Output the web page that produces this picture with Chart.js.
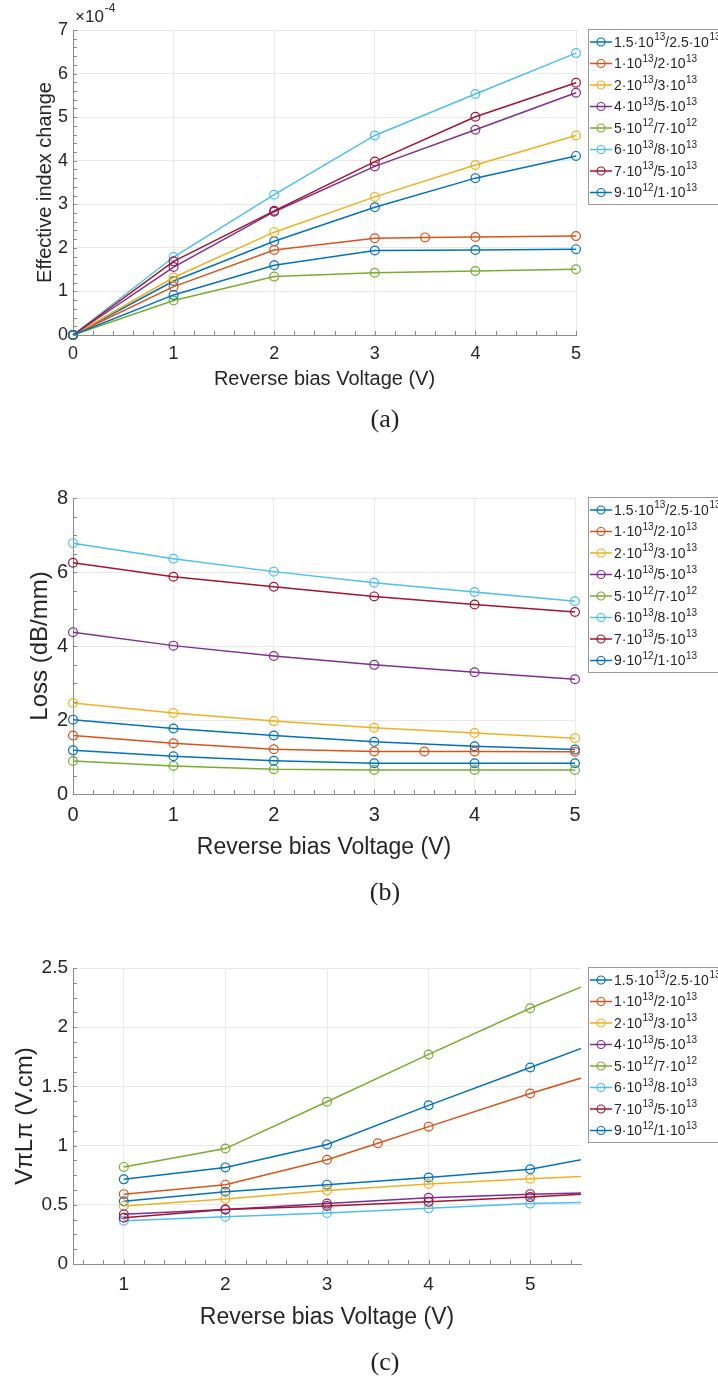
<!DOCTYPE html>
<html><head><meta charset="utf-8">
<script src="https://cdn.jsdelivr.net/npm/chart.js@4.4.1/dist/chart.umd.min.js"></script>
<style>
html,body{margin:0;padding:0;background:#fff;width:718px;height:1378px;overflow:hidden;position:relative;}
canvas{position:absolute;left:0;}
.cap{position:absolute;left:335px;width:100px;text-align:center;font-family:'Liberation Serif','DejaVu Serif',serif;font-size:26px;color:#222;line-height:30px;}
</style></head><body>
<canvas id="ca" width="718" height="440" style="top:0px;width:718px;height:440px"></canvas>
<canvas id="cb" width="718" height="470" style="top:440px;width:718px;height:470px"></canvas>
<canvas id="cc" width="718" height="468" style="top:910px;width:718px;height:468px"></canvas>
<div class="cap" style="top:404px">(a)</div>
<div class="cap" style="top:877px">(b)</div>
<div class="cap" style="top:1347px">(c)</div>
<script>
// ---------- data ----------
const seriesLabels = ["1.5·10^13/2.5·10^13","1·10^13/2·10^13","2·10^13/3·10^13","4·10^13/5·10^13","5·10^12/7·10^12","6·10^13/8·10^13","7·10^13/5·10^13","9·10^12/1·10^13"];
const seriesColors = ["#0072BD","#D95319","#EDB120","#7E2F8E","#77AC30","#4DBEEE","#A2142F","#0072BD"];

const voltsAB = [0,1,2,3,4,5];
const voltsABOrange = [0,1,2,3,3.5,4,5];
const voltsC = [1,2,3,4,5,6];
const voltsCOrange = [1,2,3,3.5,4,5,6];

// (a) effective index change, in units of 1e-4
const dn_15_25 = [0,1.24,2.15,2.93,3.60,4.11];
const dn_1_2   = [0,1.11,1.95,2.22,2.24,2.25,2.27];
const dn_2_3   = [0,1.32,2.36,3.17,3.90,4.58];
const dn_4_5   = [0,1.56,2.83,3.87,4.71,5.56];
const dn_5_7   = [0,0.79,1.34,1.43,1.47,1.51];
const dn_6_8   = [0,1.79,3.22,4.58,5.53,6.47];
const dn_7_5   = [0,1.69,2.85,3.98,5.01,5.79];
const dn_9_1   = [0,0.92,1.60,1.94,1.95,1.97];

// (b) loss dB/mm
const loss_15_25 = [2.01,1.77,1.58,1.41,1.29,1.20];
const loss_1_2   = [1.58,1.37,1.21,1.15,1.15,1.15,1.14];
const loss_2_3   = [2.46,2.19,1.97,1.79,1.65,1.51];
const loss_4_5   = [4.37,4.01,3.73,3.49,3.29,3.10];
const loss_5_7   = [0.89,0.76,0.67,0.65,0.65,0.65];
const loss_6_8   = [6.78,6.36,6.01,5.71,5.46,5.21];
const loss_7_5   = [6.25,5.87,5.60,5.34,5.12,4.92];
const loss_9_1   = [1.18,1.02,0.90,0.83,0.83,0.83];

// (c) VpiLpi V.cm
const vpl_15_25 = [0.53,0.61,0.67,0.73,0.80,0.96];
const vpl_1_2   = [0.59,0.67,0.88,1.02,1.16,1.44,1.70];
const vpl_2_3   = [0.49,0.55,0.62,0.675,0.72,0.76];
const vpl_4_5   = [0.42,0.46,0.51,0.56,0.59,0.61];
const vpl_5_7   = [0.82,0.975,1.37,1.77,2.16,2.52];
const vpl_6_8   = [0.365,0.40,0.43,0.47,0.51,0.53];
const vpl_7_5   = [0.39,0.46,0.49,0.525,0.565,0.615];
const vpl_9_1   = [0.715,0.816,1.01,1.34,1.66,1.98];

const xTicksAB = [0,1,2,3,4,5];
const xTicksC = [1,2,3,4,5];
const yTicksA = [0,1,2,3,4,5,6,7];
const yTicksB = [0,2,4,6,8];
const yTicksC = [0,0.5,1,1.5,2,2.5];

// ---------- styling ----------
const FF = "'Liberation Sans', Arial, Helvetica, sans-serif";
const TXT = '#262626';
const AX = '#8a8a8a';
const GRID = '#e9e9e9';

function buildDatasets(xsList, ysList, clip){
  return seriesLabels.map((lab,i)=>({
    label: lab,
    data: xsList[i].map((x,j)=>({x:x, y:ysList[i][j]})),
    borderColor: seriesColors[i],
    backgroundColor: 'rgba(0,0,0,0)',
    pointBorderColor: seriesColors[i],
    pointBackgroundColor: 'rgba(0,0,0,0)',
    borderWidth: 1.5,
    pointRadius: 4.4,
    pointHoverRadius: 4.4,
    pointBorderWidth: 1.2,
    tension: 0,
    clip: clip,
    order: 10 - i
  }));
}

function drawSup(ctx, str, x, y, fs, sfs){
  const parts = str.split(/\^(\d+)/);
  parts.forEach((p,k)=>{
    if(!p) return;
    if(k%2===0){ ctx.font = fs+'px '+FF; ctx.fillText(p,x,y); x += ctx.measureText(p).width; }
    else { ctx.font = sfs+'px '+FF; ctx.fillText(p,x+0.5,y-5.5); x += ctx.measureText(p).width+0.5; }
  });
}

const decoPlugin = {
  id: 'deco',
  afterDraw(chart, args, opts){
    const ctx = chart.ctx, a = chart.chartArea, xs = chart.scales.x, ys = chart.scales.y;
    ctx.save();
    // inward tick marks
    ctx.strokeStyle = AX; ctx.lineWidth = 1; ctx.beginPath();
    const L = 4;
    const xm = opts.xMinor, ym = opts.yMinor;
    const nx = Math.round((xm.to - xm.from)/xm.step);
    for(let k=0;k<=nx;k++){ const v = xm.from + k*xm.step; const p = Math.round(xs.getPixelForValue(v))+0.5; ctx.moveTo(p,a.bottom); ctx.lineTo(p,a.bottom-L); }
    const ny = Math.round((ym.to - ym.from)/ym.step);
    for(let k=0;k<=ny;k++){ const v = ym.from + k*ym.step; const p = Math.round(ys.getPixelForValue(v))+0.5; ctx.moveTo(a.left,p); ctx.lineTo(a.left+L,p); }
    ctx.stroke();
    // legend
    const bx = 588, by = Math.round(a.top)-0.5, bh = 175;
    ctx.fillStyle = '#fff'; ctx.fillRect(bx, by, 200, bh);
    ctx.strokeStyle = '#999'; ctx.lineWidth = 1; ctx.strokeRect(bx+0.5, by, 200, bh);
    chart.data.datasets.forEach((ds,i)=>{
      const y = by + 12.5 + i*21.5;
      ctx.strokeStyle = ds.borderColor; ctx.lineWidth = 1.5;
      ctx.beginPath(); ctx.moveTo(590,y); ctx.lineTo(612,y); ctx.stroke();
      ctx.lineWidth = 1.2; ctx.beginPath(); ctx.arc(601,y,4,0,Math.PI*2); ctx.stroke();
      ctx.fillStyle = TXT; ctx.textBaseline = 'middle'; ctx.textAlign = 'left';
      drawSup(ctx, ds.label, 614, y+1, 14, 10);
    });
    // exponent label
    if(opts.exponent){
      ctx.fillStyle = TXT; ctx.textBaseline = 'middle'; ctx.textAlign = 'left';
      ctx.font = '17px '+FF; ctx.fillText('×10', 75, 17);
      const w = ctx.measureText('×10').width;
      ctx.font = '12px '+FF; ctx.fillText('-4', 75+w+1, 9);
    }
    ctx.restore();
  }
};

function makeChart(id, o){
  return new Chart(document.getElementById(id), {
    type: 'line',
    data: { datasets: o.datasets },
    plugins: [decoPlugin],
    options: {
      responsive: false, animation: false, devicePixelRatio: 1,
      events: [],
      layout: { padding: { left: 0, top: o.top, right: o.right, bottom: 0 } },
      plugins: {
        legend: { display: false }, tooltip: { enabled: false },
        deco: { xMinor: o.xMinor, yMinor: o.yMinor, exponent: o.exponent }
      },
      scales: {
        x: {
          type: 'linear', min: o.xmin, max: o.xmax,
          afterBuildTicks: s => { s.ticks = o.xticks.map(v=>({value:v})); },
          afterFit: s => { s.height = o.xh; },
          grid: { color: GRID, lineWidth: 1, drawTicks: false },
          border: { color: AX, width: 1 },
          ticks: { font: { family: FF, size: o.xtf }, color: TXT, padding: o.xtp, maxRotation: 0, autoSkip: false, callback: v => String(v) },
          title: { display: true, text: 'Reverse bias Voltage (V)', color: TXT, font: { family: FF, size: o.xtitf }, padding: { top: 0, bottom: o.xtitp } }
        },
        y: {
          type: 'linear', min: o.ymin, max: o.ymax,
          afterBuildTicks: s => { s.ticks = o.yticks.map(v=>({value:v})); },
          afterFit: s => { s.width = 73; },
          grid: { color: GRID, lineWidth: 1, drawTicks: false },
          border: { color: AX, width: 1 },
          ticks: { font: { family: FF, size: o.ytf }, color: TXT, padding: 5, autoSkip: false, callback: v => String(v) },
          title: { display: true, text: o.ytitle, color: TXT, font: { family: FF, size: o.ytitf }, padding: { top: o.ytitp, bottom: 0 } }
        }
      }
    }
  });
}

makeChart('ca', {
  datasets: buildDatasets(
    [voltsAB, voltsABOrange, voltsAB, voltsAB, voltsAB, voltsAB, voltsAB, voltsAB],
    [dn_15_25, dn_1_2, dn_2_3, dn_4_5, dn_5_7, dn_6_8, dn_7_5, dn_9_1], 6),
  top: 30, right: 142, xh: 105,
  xmin: 0, xmax: 5, xticks: xTicksAB, xtf: 18, xtp: 8, xtitf: 20, xtitp: 49,
  ymin: 0, ymax: 7, yticks: yTicksA, ytf: 18, ytitle: 'Effective index change', ytitf: 20, ytitp: 33,
  xMinor: {from:0, to:5, step:0.2}, yMinor: {from:0, to:7, step:0.2}, exponent: true
});

makeChart('cb', {
  datasets: buildDatasets(
    [voltsAB, voltsABOrange, voltsAB, voltsAB, voltsAB, voltsAB, voltsAB, voltsAB],
    [loss_15_25, loss_1_2, loss_2_3, loss_4_5, loss_5_7, loss_6_8, loss_7_5, loss_9_1], 6),
  top: 58, right: 143, xh: 116,
  xmin: 0, xmax: 5, xticks: xTicksAB, xtf: 20, xtp: 9, xtitf: 23, xtitp: 49,
  ymin: 0, ymax: 8, yticks: yTicksB, ytf: 20, ytitle: 'Loss (dB/mm)', ytitf: 24, ytitp: 26,
  xMinor: {from:0, to:5, step:0.2}, yMinor: {from:0, to:8, step:0.5}, exponent: false
});

makeChart('cc', {
  datasets: buildDatasets(
    [voltsC, voltsCOrange, voltsC, voltsC, voltsC, voltsC, voltsC, voltsC],
    [vpl_15_25, vpl_1_2, vpl_2_3, vpl_4_5, vpl_5_7, vpl_6_8, vpl_7_5, vpl_9_1], {left:6, top:6, right:0, bottom:6}),
  top: 58, right: 137, xh: 114,
  xmin: 0.5, xmax: 5.5, xticks: xTicksC, xtf: 19, xtp: 9, xtitf: 23, xtitp: 47,
  ymin: 0, ymax: 2.5, yticks: yTicksC, ytf: 19, ytitle: 'VπLπ (V.cm)', ytitf: 24, ytitp: 11,
  xMinor: {from:0.6, to:5.4, step:0.2}, yMinor: {from:0, to:2.5, step:0.125}, exponent: false
});
</script>
</body></html>
